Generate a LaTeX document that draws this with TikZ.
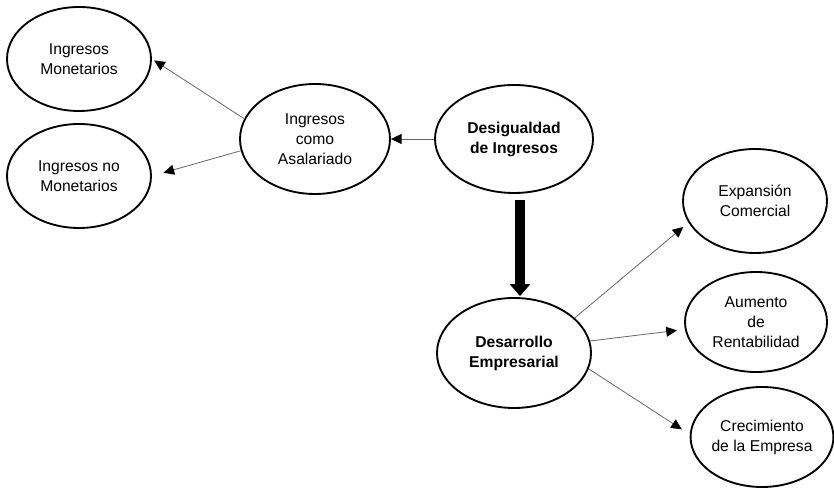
\documentclass[tikz,border=0pt]{standalone}
\usepackage{fontspec}
\setmainfont{Liberation Sans}
\usetikzlibrary{shapes.geometric,arrows.meta}

\begin{document}
\begin{tikzpicture}[x=0.75pt,y=0.75pt,
    elip/.style={draw,ellipse,line width=1.4pt,inner sep=0pt,align=center,
      font=\fontsize{11.75}{15}\selectfont},
    flecha/.style={draw=black!60,line width=0.6pt,
      -{Triangle[length=8pt,width=7.5pt,color=black]}},
    gruesa/.style={line width=8pt,-{Triangle[length=9pt,width=15pt]}}]
  \useasboundingbox (0,0) rectangle (834,488);

  % lado izquierdo
  \node[elip,minimum width=108pt,minimum height=78pt] (monet) at (79,429) {Ingresos\\Monetarios};
  \node[elip,minimum width=108pt,minimum height=78pt] (nomonet) at (79,312) {Ingresos no\\Monetarios};
  \node[elip,minimum width=112.5pt,minimum height=82.5pt] (asal) at (315,349) {Ingresos\\como\\Asalariado};
  \node[elip,minimum width=118.5pt,minimum height=81pt,font=\fontsize{11.75}{15}\selectfont\bfseries] (desig) at (514,349) {Desigualdad\\de Ingresos};

  % lado derecho
  \node[elip,minimum width=115.5pt,minimum height=82.5pt,font=\fontsize{11.75}{15}\selectfont\bfseries] (desar) at (514,135) {Desarrollo\\Empresarial};
  \node[elip,minimum width=108pt,minimum height=78pt] (expan) at (755,287) {Expansión\\Comercial};
  \node[elip,minimum width=106.5pt,minimum height=75pt] (rent) at (756,166) {Aumento\\de\\Rentabilidad};
  \node[elip,minimum width=106.5pt,minimum height=75pt] (crec) at (762,51) {Crecimiento\\de la Empresa};

  % flechas
  \draw[flecha] (desig.west) -- (asal.east);
  \draw[flecha,shorten >=2pt] (asal.164) -- (monet.east);
  \draw[flecha,shorten >=9pt] (asal.189) -- (nomonet.east);
  \draw[gruesa] ([xshift=4.5pt,yshift=-4.5pt]desig.south) -- ([xshift=4.5pt,yshift=0.75pt]desar.north);
  \draw[flecha,shorten >=5pt] (desar.30) -- (expan.198);
  \draw[flecha,shorten >=6pt] (desar.9) -- (rent.186);
  \draw[flecha,shorten >=7pt] (desar.348) -- (crec.178);
\end{tikzpicture}
\end{document}
